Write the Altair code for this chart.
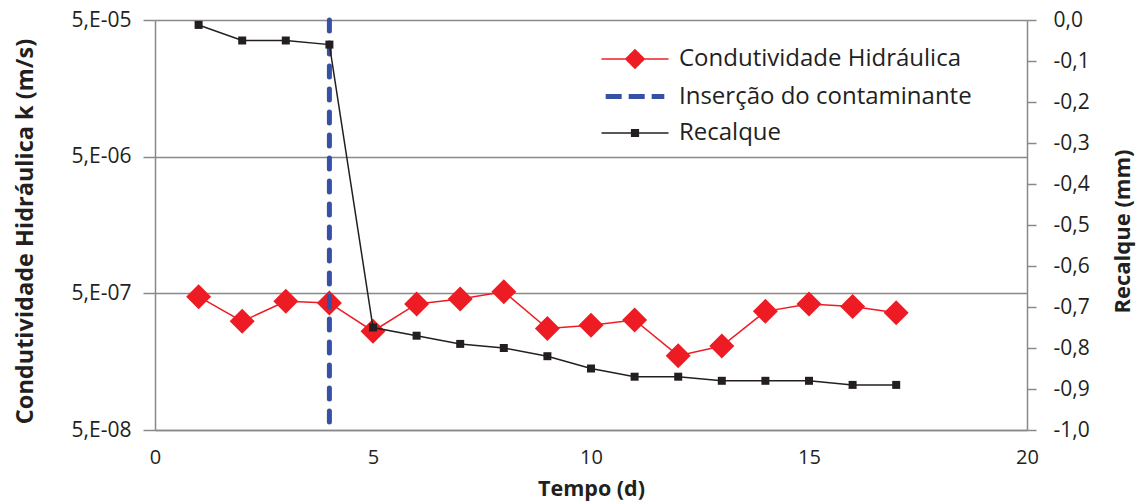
import altair as alt
import pandas as pd

# ---- data ----
dias = list(range(1, 18))
condutividade = [4.73e-7, 3.12e-7, 4.37e-7, 4.25e-7, 2.64e-7, 4.18e-7, 4.55e-7, 5.14e-7,
                 2.76e-7, 2.92e-7, 3.19e-7, 1.75e-7, 2.06e-7, 3.69e-7, 4.18e-7, 4.0e-7, 3.6e-7]
recalque = [-0.012, -0.05, -0.05, -0.06, -0.75, -0.77, -0.79, -0.80, -0.82, -0.85,
            -0.87, -0.87, -0.88, -0.88, -0.88, -0.89, -0.89]
insercao_dia = [4]
series = ["Condutividade Hidráulica", "Inserção do contaminante", "Recalque"]
cores = ["#ED1C24", "#3550A5", "#231F20"]
x_ticks = [0, 5, 10, 15, 20]
k_ticks = [5e-8, 5e-7, 5e-6, 5e-5]
r_ticks = [0.0, -0.1, -0.2, -0.3, -0.4, -0.5, -0.6, -0.7, -0.8, -0.9, -1.0]

FONT = "Open Sans"
GREY = "#898989"
TXT = "#231F20"

df_k = pd.DataFrame({"dia": dias, "k": condutividade, "serie": series[0]})
df_r = pd.DataFrame({"dia": dias, "rec": recalque, "serie": series[2]})
df_i = pd.DataFrame({"dia": insercao_dia, "serie": series[1]})

x_enc = alt.X(
    "dia:Q",
    scale=alt.Scale(domain=[0, 20], nice=False, zero=False),
    axis=alt.Axis(values=x_ticks, format="d", title="Tempo (d)", grid=False, ticks=False,
                  labelPadding=17, labelFontSize=20, labelFlush=False, domainColor=GREY,
                  domainWidth=1.5, titleFontSize=21.5, titleX=436, titleY=59,
                  titleBaseline="middle", titleAlign="center"),
)

IS_K = "datum.value === 'Condutividade Hidráulica'"
IS_R = "datum.value === 'Recalque'"
IS_I = "datum.value === 'Inserção do contaminante'"
sym_shape = ("%s ? 'M-2,0H2M0,-0.55L0.55,0L0,0.55L-0.55,0Z' : "
             "%s ? 'M-2,0H2M-0.2,-0.2H0.2V0.2H-0.2Z' : 'M-1.75,0H1.75'") % (IS_K, IS_R)
sym_col = "(%s ? '%s' : %s ? '%s' : '%s')" % (IS_K, cores[0], IS_R, cores[2], cores[1])

legend = alt.Legend(
    title=None, orient="none", legendX=468, legendY=27, padding=0,
    symbolSize=1122, labelOffset=32, rowPadding=12.5, labelFontSize=24, labelFont=FONT,
    labelColor=TXT, labelLimit=400,
    symbolType={"expr": sym_shape},
    symbolStrokeColor={"expr": sym_col},
    symbolFillColor={"expr": "%s ? 'transparent' : %s" % (IS_I, sym_col)},
    symbolStrokeWidth={"expr": "%s ? 5 : 1.5" % IS_I},
    symbolDash={"expr": "%s ? [16, 7] : [1, 0]" % IS_I},
    symbolOpacity=1,
)

color = alt.Color("serie:N", scale=alt.Scale(domain=series, range=cores), legend=legend)

k_layer = alt.Chart(df_k).mark_line(
    strokeWidth=1.5,
    point=alt.OverlayMarkDef(shape="diamond", size=625, filled=True, opacity=1),
).encode(
    x=x_enc,
    y=alt.Y("k:Q",
            scale=alt.Scale(type="log", domain=[5e-8, 5e-5], nice=False),
            axis=alt.Axis(values=k_ticks, labelExpr="'5,E-0' + (-floor(log(datum.value) / LN10))",
                          title="Condutividade Hidráulica k (m/s)", grid=True, gridColor=GREY,
                          gridWidth=1.5, domainColor=GREY, domainWidth=1.5, tickColor=GREY,
                          tickWidth=1.5, tickSize=12, labelPadding=12, titleFontSize=23.5,
                          titleX=-130, titleY=211, titleAngle=-90, titleAlign="center",
                          titleBaseline="middle")),
    color=color,
)

rule_layer = alt.Chart(df_i).mark_rule(
    strokeWidth=5, strokeDash=[11, 12], strokeCap="round"
).encode(x=alt.X("dia:Q"), color=color)

r_layer = alt.Chart(df_r).mark_line(
    strokeWidth=1.5,
    point=alt.OverlayMarkDef(shape="square", size=64, filled=True, opacity=1),
).encode(
    x=alt.X("dia:Q"),
    y=alt.Y("rec:Q",
            scale=alt.Scale(domain=[-1, 0], nice=False, zero=False),
            axis=alt.Axis(orient="right", values=r_ticks,
                          labelExpr="replace(replace(format(datum.value, '.1f'), '.', ','), '\u2212', '-')",
                          title="Recalque (mm)", grid=False, domainColor=GREY, domainWidth=1.5,
                          tickColor=GREY, tickWidth=1.5, tickSize=9, labelPadding=17,
                          titleFontSize=22,
                          titleX=95, titleY=211, titleAngle=-90, titleAlign="center",
                          titleBaseline="middle")),
    color=color,
)

chart = alt.layer(k_layer, rule_layer, r_layer).resolve_scale(
    y="independent"
).properties(
    width=872, height=410,
    autosize=alt.AutoSizeParams(type="none"),
    padding={"left": 155, "top": 20, "right": 114, "bottom": 74},
    background="white",
).configure_view(stroke=None).configure_axis(
    labelFont=FONT, labelFontSize=21, labelColor=TXT,
    titleFont=FONT, titleFontSize=22, titleFontWeight="bold", titleColor=TXT,
)

chart.save("out.html", embed_options={"renderer": "svg", "actions": False})
